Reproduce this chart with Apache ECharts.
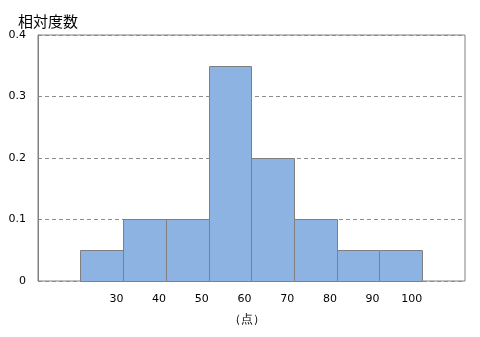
<!DOCTYPE html>
<html><head><meta charset="utf-8">
<script src="https://cdn.jsdelivr.net/npm/echarts@6/dist/echarts.min.js"></script>
<style>html,body{margin:0;padding:0;background:#fff}#c{width:480px;height:337px}</style>
</head><body><div id="c"></div>
<script>
const binStarts = [20, 30, 40, 50, 60, 70, 80, 90];
const binWidth = 10;
const relFreq = [0.05, 0.1, 0.1, 0.35, 0.2, 0.1, 0.05, 0.05];
const xTickLabels = ['30', '40', '50', '60', '70', '80', '90', '100'];
const yTicks = [0, 0.1, 0.2, 0.3, 0.4];

const chart = echarts.init(document.getElementById('c'), null, {renderer: 'canvas'});
const font = 'Verdana, "DejaVu Sans", sans-serif';
function snap(v) { const d = Math.round(v * 2); return d % 2 !== 0 ? d / 2 : (d + 1) / 2; }
chart.setOption({
  animation: false,
  grid: {left: 38, right: 15, top: 35, bottom: 56, show: true, borderColor: '#808080', borderWidth: 1},
  title: {text: '相対度数', left: 13, top: 9, textStyle: {fontSize: 15, fontWeight: 'normal', color: '#000', fontFamily: '"Noto Sans CJK JP", sans-serif'}},
  graphic: [{type: 'text', left: 229, top: 314, style: {text: '（点）', fontSize: 12, fill: '#000', font: '12px "Noto Sans CJK JP", sans-serif'}}],
  xAxis: {
    type: 'value', min: 10, max: 110, interval: 10,
    axisLine: {show: false}, axisTick: {show: false}, splitLine: {show: false},
    axisLabel: {
      margin: 13, fontSize: 11, color: '#000', fontFamily: font, align: 'right',
      formatter: v => { const i = xTickLabels.indexOf(String(v)); return i >= 0 ? xTickLabels[i] : ''; }
    }
  },
  yAxis: {
    type: 'value', min: yTicks[0], max: yTicks[yTicks.length - 1], interval: 0.1,
    axisLine: {show: true, lineStyle: {color: '#808080'}}, axisTick: {show: false},
    splitLine: {show: true, lineStyle: {color: '#8c8c8c', type: [4, 3], width: 1}},
    axisLabel: {margin: 12, fontSize: 11, color: '#000', fontFamily: font,
      formatter: v => String(Math.round(v * 10) / 10)}
  },
  series: [{
    type: 'custom', z: 5,
    data: binStarts.map((s, i) => [s, s + binWidth, relFreq[i]]),
    renderItem: (params, api) => {
      const p0 = api.coord([api.value(0), 0]);
      const p1 = api.coord([api.value(1), api.value(2)]);
      const x0 = snap(p0[0]), x1 = snap(p1[0]), y0 = snap(p0[1]), y1 = snap(p1[1]);
      return {type: 'rect', shape: {x: x0, y: y1, width: x1 - x0, height: y0 - y1},
        style: {fill: '#8DB3E2', stroke: '#808080', lineWidth: 1}};
    },
    encode: {x: [0, 1], y: 2}
  }]
});
</script></body></html>
